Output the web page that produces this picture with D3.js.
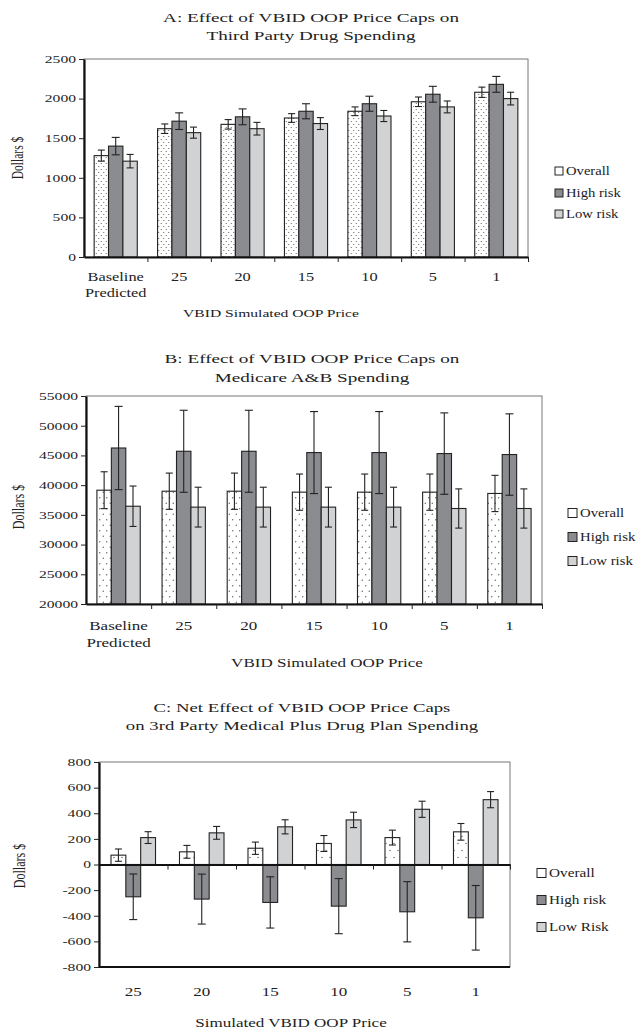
<!DOCTYPE html>
<html>
<head>
<meta charset="utf-8">
<script src="https://cdn.jsdelivr.net/npm/d3@7"></script>
<style>
  body { margin: 0; background: #fff; }
  text { font-family: "Liberation Serif", "Times New Roman", serif; fill: #222; }
</style>
</head>
<body>
<svg id="chart" width="639" height="1032"></svg>
<script>
// ---- data ----
const catsAB = [['Baseline', 'Predicted'], ['25'], ['20'], ['15'], ['10'], ['5'], ['1']];
const catsC = [['25'], ['20'], ['15'], ['10'], ['5'], ['1']];

const aOverall = [1280, 1620, 1675, 1755, 1840, 1960, 2080];
const aHigh = [1400, 1715, 1770, 1840, 1935, 2055, 2180];
const aLow = [1210, 1570, 1620, 1685, 1780, 1895, 2000];
const aOverallErr = [70, 60, 60, 55, 55, 60, 65];
const aHighErr = [110, 105, 100, 95, 95, 100, 100];
const aLowErr = [85, 70, 80, 75, 70, 75, 80];

const bOverall = [39150, 38980, 38980, 38820, 38820, 38820, 38600];
const bHigh = [46250, 45700, 45700, 45480, 45480, 45310, 45150];
const bLow = [36450, 36300, 36300, 36300, 36300, 36070, 36070];
const bOverallErr = [3100, 3050, 3050, 3050, 3050, 3050, 3050];
const bHighErr = [7000, 6900, 6900, 6900, 6900, 6850, 6850];
const bLowErr = [3400, 3350, 3350, 3350, 3350, 3300, 3300];

const cOverall = [73, 99, 127, 164, 210, 255];
const cHigh = [-252, -270, -296, -325, -369, -416];
const cLow = [210, 247, 294, 348, 431, 506];
const cOverallErr = [48, 50, 48, 62, 58, 65];
const cHighErr = [178, 195, 200, 215, 235, 252];
const cLowErr = [46, 50, 55, 60, 63, 63];

const legendAB = ['Overall', 'High risk', 'Low risk'];
const legendC = ['Overall', 'High risk', 'Low Risk'];

const SX = 1.42; // the original figure is stretched sideways
const fills = [null, '#8b8c90', '#d1d2d4'];

const svg = d3.select('#chart');
const defs = svg.append('defs');

function dotPattern(id, w, h, r) {
  const p = defs.append('pattern')
      .attr('id', id)
      .attr('patternUnits', 'userSpaceOnUse')
      .attr('width', w)
      .attr('height', h);
  p.append('rect').attr('width', w).attr('height', h).attr('fill', '#fff');
  p.append('circle').attr('cx', w * 0.25).attr('cy', h * 0.25).attr('r', r).attr('fill', '#555');
  p.append('circle').attr('cx', w * 0.75).attr('cy', h * 0.75).attr('r', r).attr('fill', '#555');
}
dotPattern('dotsA', 5, 6, 0.6);
dotPattern('dotsB', 7, 11, 0.65);
dotPattern('dotsC', 8, 14, 0.65);

function label(g, x, y, str, size, anchor, sx) {
  return g.append('text')
      .attr('transform', `translate(${x},${y}) scale(${sx || SX},1)`)
      .attr('text-anchor', anchor || 'middle')
      .attr('dy', '0.35em')
      .style('font-size', size + 'px')
      .text(str);
}

function drawPanel(cfg) {
  const g = svg.append('g');

  // title
  cfg.title.forEach((t, i) => label(g, cfg.titleX, cfg.titleY[i], t, cfg.titleSize));

  const n = cfg.cats.length;
  const x = d3.scaleBand().domain(d3.range(n)).range([cfg.left, cfg.right]);
  const xs = d3.scaleBand().domain([0, 1, 2])
      .range([-x.bandwidth() * cfg.groupFrac / 2, x.bandwidth() * cfg.groupFrac / 2]);
  const y = d3.scaleLinear().domain(cfg.domain).range([cfg.bottom, cfg.top]);
  const base = cfg.domain[0] < 0 ? 0 : cfg.domain[0];

  // frame (thin, top and right)
  g.append('rect')
      .attr('x', cfg.left).attr('y', cfg.top)
      .attr('width', cfg.right - cfg.left).attr('height', cfg.bottom - cfg.top)
      .attr('fill', 'none').attr('stroke', '#777').attr('stroke-width', 1);

  // bars
  const series = cfg.values.map((vals, s) => vals.map((v, i) => ({ s, i, v, e: cfg.errs[s][i] })));
  const bars = g.append('g');
  series.forEach(sr => {
    bars.selectAll(null)
        .data(sr)
      .join('rect')
        .attr('x', d => x(d.i) + x.bandwidth() / 2 + xs(d.s))
        .attr('width', xs.bandwidth())
        .attr('y', d => y(Math.max(d.v, base)))
        .attr('height', d => Math.abs(y(d.v) - y(base)))
        .attr('fill', d => d.s === 0 ? `url(#${cfg.pattern})` : fills[d.s])
        .attr('stroke', '#222')
        .attr('stroke-width', 1.1);
  });

  // error bars
  const eb = g.append('g').attr('stroke', '#222').attr('stroke-width', 1.1);
  series.flat().forEach(d => {
    const cx = x(d.i) + x.bandwidth() / 2 + xs(d.s) + xs.bandwidth() / 2;
    const cw = d.s === 1 ? 4 : 3.5;
    eb.append('line').attr('x1', cx).attr('x2', cx).attr('y1', y(d.v - d.e)).attr('y2', y(d.v + d.e));
    eb.append('line').attr('x1', cx - cw).attr('x2', cx + cw).attr('y1', y(d.v - d.e)).attr('y2', y(d.v - d.e));
    eb.append('line').attr('x1', cx - cw).attr('x2', cx + cw).attr('y1', y(d.v + d.e)).attr('y2', y(d.v + d.e));
  });

  // y axis
  const yAxis = d3.axisLeft(y)
      .tickValues(d3.range(cfg.domain[0], cfg.domain[1] + 1, cfg.tickStep))
      .tickSize(5).tickSizeOuter(0)
      .tickFormat(d => String(d));
  const yG = g.append('g').attr('transform', `translate(${cfg.left},0)`).call(yAxis);
  yG.select('.domain').attr('stroke', '#111').attr('stroke-width', 2.2);
  yG.selectAll('.tick line').attr('stroke', '#222');
  yG.selectAll('.tick text').remove();
  yAxis.tickValues().forEach(v => label(g, cfg.left - 8, y(v), String(v), cfg.tickSize, 'end'));

  // x axis: tick marks at group boundaries on the baseline
  const xb = d3.scaleLinear().domain([0, n]).range([cfg.left, cfg.right]);
  const xAxis = d3.axisBottom(xb).tickValues(d3.range(1, n + 1)).tickSize(5).tickSizeOuter(0).tickFormat('');
  const xG = g.append('g').attr('transform', `translate(0,${y(base)})`).call(xAxis);
  xG.select('.domain').attr('stroke', '#111').attr('stroke-width', 2.2);
  xG.selectAll('.tick line').attr('stroke', '#222');
  if (cfg.domain[0] < 0) {
    g.append('line')
        .attr('x1', cfg.left).attr('x2', cfg.right)
        .attr('y1', cfg.bottom).attr('y2', cfg.bottom)
        .attr('stroke', '#111').attr('stroke-width', 2.2);
  }

  // category labels
  cfg.cats.forEach((c, i) => {
    c.forEach((line, j) => label(g, x(i) + x.bandwidth() / 2, cfg.catY + j * cfg.catLine, line, cfg.catSize));
  });

  // axis titles
  label(g, cfg.axisTitleX, cfg.axisTitleY, cfg.axisTitle, cfg.axisTitleSize);
  g.append('text')
      .attr('transform', `translate(${cfg.yTitleX},${cfg.yTitleY}) scale(${SX},1) rotate(-90)`)
      .attr('text-anchor', 'middle')
      .attr('dy', '0.35em')
      .style('font-size', cfg.yTitleSize + 'px')
      .text('Dollars $');

  // legend
  cfg.legend.names.forEach((nm, i) => {
    const ly = cfg.legend.ys[i];
    const s = cfg.legend.box;
    g.append('rect')
        .attr('x', cfg.legend.x).attr('y', ly - s / 2)
        .attr('width', s).attr('height', s)
        .attr('fill', i === 0 ? '#fff' : fills[i])
        .attr('stroke', '#222').attr('stroke-width', 1);
    label(g, cfg.legend.x + s + 3, ly, nm, cfg.legend.size, 'start', cfg.legend.sx);
  });
}

drawPanel({
  title: ['A: Effect of VBID OOP Price Caps on', 'Third Party Drug Spending'],
  titleX: 311, titleY: [17, 35], titleSize: 13.5,
  left: 84, right: 528, top: 59, bottom: 257,
  domain: [0, 2500], tickStep: 500, tickSize: 11,
  cats: catsAB, groupFrac: 0.68, catY: 277, catLine: 15.5, catSize: 11.5,
  values: [aOverall, aHigh, aLow], errs: [aOverallErr, aHighErr, aLowErr],
  pattern: 'dotsA',
  axisTitle: 'VBID Simulated OOP Price', axisTitleX: 271, axisTitleY: 313, axisTitleSize: 11,
  yTitleX: 17, yTitleY: 158, yTitleSize: 11.5,
  legend: { names: legendAB, x: 555, ys: [171, 193, 214], box: 8, size: 12, sx: 1.22 }
});

drawPanel({
  title: ['B: Effect of VBID OOP Price Caps on', 'Medicare A&B Spending'],
  titleX: 312, titleY: [358, 377], titleSize: 13.5,
  left: 86, right: 542, top: 396, bottom: 604,
  domain: [20000, 55000], tickStep: 5000, tickSize: 11,
  cats: catsAB, groupFrac: 0.665, catY: 626, catLine: 17, catSize: 12,
  values: [bOverall, bHigh, bLow], errs: [bOverallErr, bHighErr, bLowErr],
  pattern: 'dotsB',
  axisTitle: 'VBID Simulated OOP Price', axisTitleX: 327, axisTitleY: 663, axisTitleSize: 12,
  yTitleX: 18, yTitleY: 507, yTitleSize: 12,
  legend: { names: legendAB, x: 568, ys: [513, 537, 561], box: 9, size: 12.5, sx: 1.18 }
});

drawPanel({
  title: ['C: Net Effect of VBID OOP Price Caps', 'on 3rd Party Medical Plus Drug Plan Spending'],
  titleX: 302, titleY: [707, 725], titleSize: 13.2,
  left: 99, right: 510, top: 762, bottom: 967,
  domain: [-800, 800], tickStep: 200, tickSize: 11,
  cats: catsC, groupFrac: 0.65, catY: 992, catLine: 16, catSize: 12,
  values: [cOverall, cHigh, cLow], errs: [cOverallErr, cHighErr, cLowErr],
  pattern: 'dotsC',
  axisTitle: 'Simulated VBID OOP Price', axisTitleX: 291, axisTitleY: 1023, axisTitleSize: 12,
  yTitleX: 19, yTitleY: 866, yTitleSize: 12,
  legend: { names: legendC, x: 537, ys: [873, 900, 927], box: 9, size: 12.5, sx: 1.22 }
});
</script>
</body>
</html>
